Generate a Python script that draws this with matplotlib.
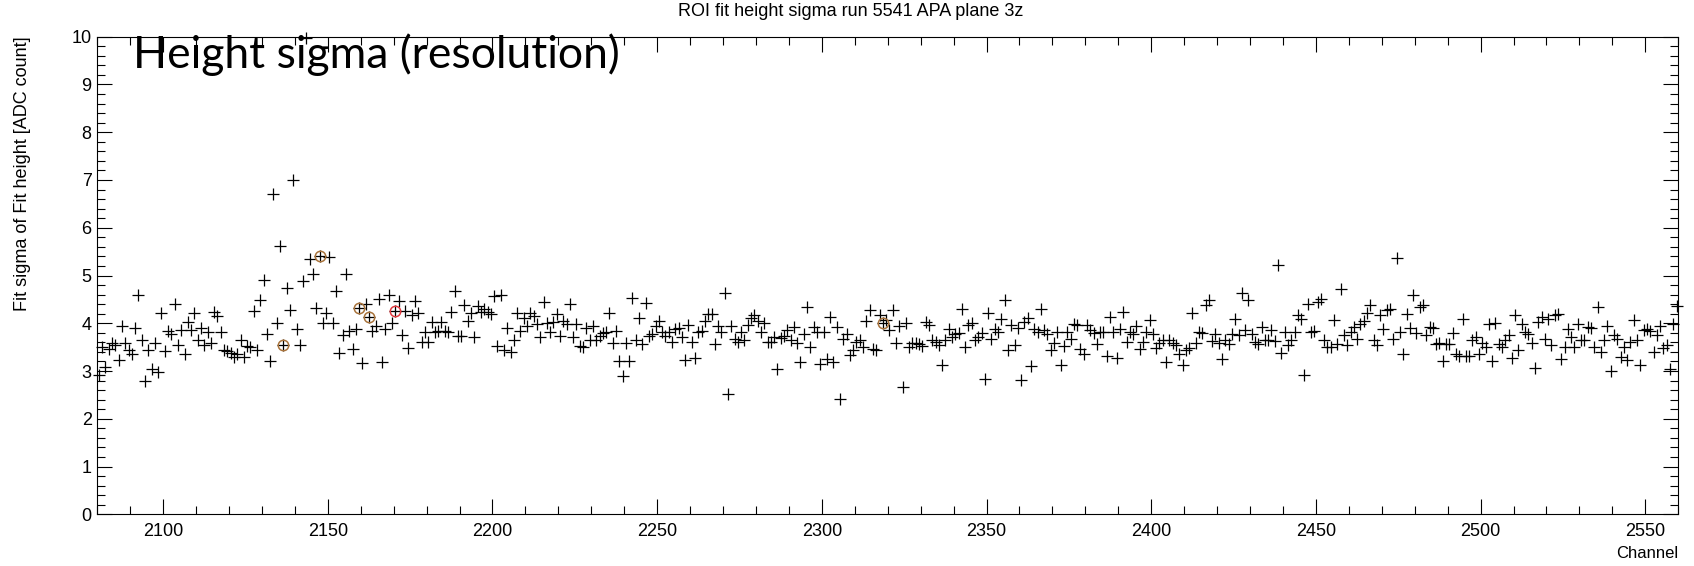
import numpy as np
import matplotlib.pyplot as plt
from matplotlib.ticker import MultipleLocator

# channel numbers, one point per channel
channels = np.arange(2080, 2560)

# fit sigma of fit height per channel [ADC count]
sigma = [
    2.92, 3.51, 3.09, 3.47, 3.59, 3.55, 3.23, 3.95, 3.59, 3.44,
    3.36, 3.91, 4.59, 3.66, 2.80, 3.44, 3.04, 3.59, 2.97, 4.21,
    3.42, 3.84, 3.77, 4.40, 3.54, 3.86, 3.36, 4.03, 3.86, 4.21,
    3.66, 3.91, 3.54, 3.82, 3.59, 4.24, 4.16, 3.81, 3.45, 3.41,
    3.37, 3.29, 3.35, 3.66, 3.29, 3.52, 3.50, 4.26, 3.44, 4.49,
    4.91, 3.78, 3.20, 6.70, 4.00, 5.62, 3.54, 4.73, 4.28, 7.00,
    3.89, 3.54, 4.88, 9.98, 5.35, 5.03, 4.33, 5.40, 4.00, 4.22,
    5.38, 4.00, 4.67, 3.38, 3.75, 5.03, 3.84, 3.47, 3.89, 4.33,
    3.17, 4.40, 4.14, 3.84, 3.95, 4.50, 3.18, 3.88, 4.59, 4.00,
    4.26, 4.46, 3.76, 4.26, 3.48, 4.17, 4.46, 4.21, 3.61, 3.82,
    3.61, 4.03, 3.81, 3.84, 4.02, 3.84, 3.81, 4.24, 4.68, 3.73,
    3.73, 4.38, 4.05, 4.21, 3.71, 4.37, 4.23, 4.30, 4.23, 4.19,
    4.57, 3.53, 4.59, 3.43, 3.91, 3.39, 3.64, 4.21, 3.84, 4.12,
    3.94, 4.21, 4.16, 3.98, 3.72, 4.44, 4.00, 3.81, 4.03, 4.19,
    3.74, 4.05, 3.98, 4.41, 3.71, 3.98, 3.52, 3.50, 3.91, 3.64,
    3.94, 3.66, 3.74, 3.80, 3.81, 4.21, 3.59, 3.83, 3.22, 2.90,
    3.59, 3.21, 4.53, 3.65, 4.12, 3.56, 4.43, 3.74, 3.78, 3.95,
    4.04, 3.81, 3.74, 3.81, 3.60, 3.88, 3.91, 3.72, 3.23, 3.96,
    3.60, 3.28, 3.82, 3.84, 4.05, 4.19, 4.19, 3.56, 3.95, 3.81,
    4.63, 2.51, 3.94, 3.68, 3.60, 3.81, 3.64, 3.97, 4.12, 4.17,
    4.05, 3.82, 4.00, 3.60, 3.61, 3.71, 3.05, 3.70, 3.74, 3.85,
    3.65, 3.92, 3.58, 3.18, 3.78, 4.34, 3.51, 3.92, 3.81, 3.15,
    3.81, 3.26, 4.13, 3.18, 3.92, 2.42, 3.68, 3.78, 3.33, 3.43,
    3.61, 3.64, 3.50, 4.05, 4.28, 3.47, 3.43, 4.17, 4.00, 4.07,
    3.85, 4.28, 3.58, 3.95, 2.67, 4.00, 3.50, 3.59, 3.59, 3.57,
    3.52, 4.03, 3.96, 3.66, 3.61, 3.54, 3.12, 3.64, 3.89, 3.71,
    3.78, 3.79, 4.29, 3.50, 3.96, 4.00, 3.64, 3.71, 3.79, 2.84,
    4.22, 3.68, 3.89, 3.82, 4.08, 4.48, 3.43, 3.96, 3.54, 3.91,
    2.81, 4.03, 4.10, 3.10, 3.89, 3.82, 4.29, 3.85, 3.78, 3.43,
    3.59, 3.82, 3.12, 3.52, 3.82, 3.68, 3.99, 3.97, 3.47, 3.36,
    3.97, 3.85, 3.79, 3.56, 3.82, 3.82, 3.31, 4.13, 3.82, 3.28,
    3.89, 4.23, 3.61, 3.82, 3.78, 3.94, 3.47, 3.61, 3.82, 4.06,
    3.78, 3.49, 3.59, 3.64, 3.19, 3.66, 3.59, 3.54, 3.35, 3.12,
    3.43, 3.49, 4.22, 3.59, 3.82, 3.80, 4.39, 4.48, 3.63, 3.77,
    3.59, 3.25, 3.64, 3.57, 3.78, 4.09, 3.75, 4.63, 3.85, 4.49,
    3.78, 3.61, 3.57, 3.92, 3.64, 3.64, 3.85, 3.63, 5.21, 3.38,
    3.82, 3.54, 3.66, 3.82, 4.17, 4.09, 2.91, 4.41, 3.82, 3.83,
    4.44, 4.51, 3.64, 3.50, 3.50, 4.06, 3.56, 4.71, 3.75, 3.54,
    3.82, 3.92, 3.68, 3.99, 4.05, 4.22, 4.39, 3.64, 3.55, 4.18,
    3.87, 4.28, 4.30, 3.68, 5.37, 3.82, 3.36, 4.19, 3.90, 4.60,
    3.80, 4.34, 4.39, 3.75, 3.92, 3.90, 3.57, 3.59, 3.21, 3.57,
    3.57, 3.80, 3.36, 3.31, 4.09, 3.31, 3.32, 3.66, 3.71, 3.36,
    3.59, 3.50, 3.99, 3.22, 4.00, 3.57, 3.50, 3.66, 3.75, 3.28,
    4.18, 3.45, 3.99, 3.82, 3.78, 3.59, 3.07, 4.03, 4.13, 3.68,
    4.08, 3.54, 4.17, 4.20, 3.26, 3.50, 3.89, 3.71, 3.50, 3.99,
    3.64, 3.64, 3.92, 3.90, 3.50, 4.34, 3.40, 3.66, 3.95, 3.00,
    3.75, 3.68, 3.29, 3.50, 3.24, 3.61, 4.07, 3.64, 3.12, 3.85,
    3.89, 3.84, 3.40, 3.75, 3.95, 3.48, 3.54, 3.04, 3.99, 4.37,
]

# channels marked with circles
circled = [2136, 2147, 2159, 2162, 2318]
red_circled = [2170]

plt.rcParams['font.family'] = ['Liberation Sans', 'DejaVu Sans']

sigma = np.array(sigma)
x = channels + 0.5

fig = plt.figure(figsize=(16.94, 5.66), dpi=100)
ax = fig.add_axes([0.0574, 0.0913, 0.9333, 0.8439])

ax.plot(x, sigma, '+', color='black', ms=8, mew=0.9, clip_on=False)

idx = np.searchsorted(channels, circled)
ax.plot(x[idx], sigma[idx], 'o', mfc='none', mec='#a8733c', ms=7.5, mew=1.1)
idx = np.searchsorted(channels, red_circled)
ax.plot(x[idx], sigma[idx], 'o', mfc='none', mec='#e0393e', ms=7.5, mew=1.1)

ax.set_xlim(2080, 2560)
ax.set_ylim(0, 10)

# ROOT style ticks
ax.xaxis.set_major_locator(MultipleLocator(50))
ax.xaxis.set_minor_locator(MultipleLocator(10))
ax.yaxis.set_major_locator(MultipleLocator(1))
ax.yaxis.set_minor_locator(MultipleLocator(0.2))
ax.tick_params(which='both', direction='in', top=True, right=True, width=0.8, colors='black', labelsize=13)
ax.tick_params(which='major', length=11)
ax.tick_params(which='minor', length=5.5)
ax.tick_params(axis='x', pad=6)
ax.tick_params(axis='y', pad=4)
xt = np.arange(2100, 2551, 50)
ax.set_xticks(xt)
ax.set_xticklabels([str(t) for t in xt])
for s in ax.spines.values():
    s.set_linewidth(0.8)

ax.text(0.0226, 0.962, 'Height sigma (resolution)', transform=ax.transAxes,
        fontsize=32, family=['Lato', 'DejaVu Sans'], va='center', ha='left')

fig.text(0.502, 0.979, 'ROI fit height sigma run 5541 APA plane 3z', ha='center', va='center', fontsize=13)
fig.text(0.013, 0.935, 'Fit sigma of Fit height [ADC count]', rotation=90, ha='center', va='top', fontsize=13)
fig.text(0.9907, 0.022, 'Channel', ha='right', va='center', fontsize=12)

plt.savefig('out.png', dpi=100)
